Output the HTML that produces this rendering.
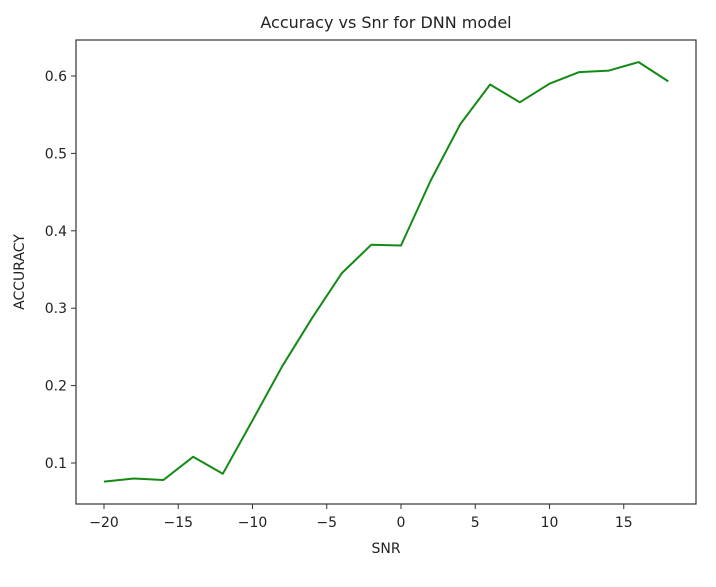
<!DOCTYPE html>
<html><head><meta charset="utf-8"><style>
html,body{margin:0;padding:0;background:#fff;width:716px;height:587px;overflow:hidden}
svg{display:block;font-family:"DejaVu Sans","Liberation Sans",sans-serif}
</style></head><body>
<svg id="chart" width="716" height="587">
<text x="386" y="28" font-size="16" text-anchor="middle" fill="#222">Accuracy vs Snr for DNN model</text>
<g id="axes"></g>
<rect x="76" y="40" width="620" height="464" fill="none" stroke="#333" stroke-width="1.2"/>
<text x="386" y="553" font-size="14" text-anchor="middle" fill="#222">SNR</text>
<text transform="translate(24,272) rotate(-90)" font-size="14" text-anchor="middle" fill="#222">ACCURACY</text>
</svg>
<script>
const snr = [-20,-18,-16,-14,-12,-10,-8,-6,-4,-2,0,2,4,6,8,10,12,14,16,18];
const accuracy = [0.076,0.080,0.078,0.108,0.086,0.155,0.225,0.287,0.345,0.382,0.381,0.465,0.538,0.589,0.566,0.590,0.605,0.607,0.618,0.593];
const xTicks = [-20,-15,-10,-5,0,5,10,15];
const yTicks = [0.1,0.2,0.3,0.4,0.5,0.6];

const NS='http://www.w3.org/2000/svg';
function xs(v){return 401 + v*14.85;}
function ys(v){return 463 - (v-0.1)*774;}
const g=document.getElementById('axes');
function mk(t,a){const e=document.createElementNS(NS,t);for(const k in a)e.setAttribute(k,a[k]);return e;}
xTicks.forEach(t=>{
  const l=mk('line',{x1:xs(t),x2:xs(t),y1:504,y2:509,stroke:'#333'});
  
  
  g.appendChild(l);
  const tx=mk('text',{x:xs(t),y:527,'font-size':14,'text-anchor':'middle',fill:'#222'});
  tx.textContent=(t<0?'\u2212'+(-t):String(t));
  
  
  g.appendChild(tx);
});
yTicks.forEach(t=>{
  const l=mk('line',{x1:71,x2:76,y1:ys(t),y2:ys(t),stroke:'#333'});
  
  
  g.appendChild(l);
  const tx=mk('text',{x:67,y:ys(t)+5,'font-size':14,'text-anchor':'end',fill:'#222'});
  tx.textContent=t.toFixed(1);
  
  
  g.appendChild(tx);
});
const pts=snr.map((s,i)=>xs(s).toFixed(1)+','+ys(accuracy[i]).toFixed(1)).join(' ');
const line=mk('polyline',{points:pts,fill:'none',stroke:'#138a13','stroke-width':2,'stroke-linejoin':'round'});


g.appendChild(line);
</script>
</body></html>
